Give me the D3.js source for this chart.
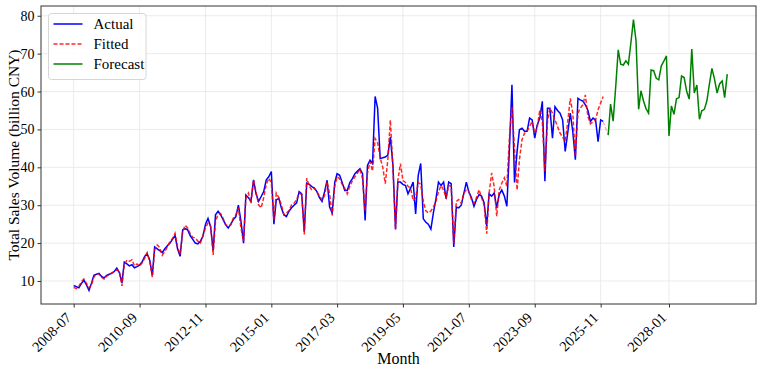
<!DOCTYPE html>
<html>
<head>
<meta charset="utf-8">
<script src="https://cdn.jsdelivr.net/npm/d3@7"></script>
<style>
  html, body { margin: 0; padding: 0; background: #fff; }
  svg { display: block; font-family: "Liberation Serif", "Times New Roman", serif; }
</style>
</head>
<body>
<div id="chart"></div>
<script>
// monthly series, first month of each block
const actualStart = "2008-07";
const forecastStart = "2026-01";

const actual = [
  8.8, 8.5, 8.2, 9.3, 10.2, 9.0, 7.5, 9.5, 11.5, 11.8,
  12.0, 11.2, 10.8, 11.5, 11.8, 12.0, 12.5, 13.4, 12.2, 9.5,
  15.0, 14.5, 14.0, 14.3, 13.5, 13.8, 14.2, 15.0, 16.5, 17.2,
  15.5, 11.5, 19.0, 18.5, 18.0, 17.5, 18.5, 19.3, 20.0, 21.0,
  22.0, 18.5, 16.5, 23.5, 23.8, 23.5, 22.0, 21.0, 20.0, 19.8,
  20.5, 21.8, 25.0, 26.5, 24.4, 18.0, 27.5, 28.4, 27.5, 26.2,
  24.8, 24.0, 25.0, 26.2, 27.0, 30.0, 25.8, 20.0, 32.7, 32.0,
  31.0, 36.7, 33.0, 31.0, 32.3, 33.6, 36.7, 37.5, 38.9, 25.0,
  31.4, 31.8, 29.3, 27.5, 27.0, 28.4, 29.3, 30.0, 30.6, 33.6,
  33.0, 23.0, 35.8, 35.5, 34.9, 34.5, 33.6, 32.0, 31.0, 33.5,
  36.6, 29.5, 28.0, 36.0, 38.3, 37.9, 36.0, 33.9, 33.9, 36.0,
  37.0, 38.3, 39.0, 39.6, 38.3, 26.0, 40.5, 41.9, 41.0, 58.7,
  55.6, 42.3, 42.5, 42.7, 43.2, 48.0, 40.5, 23.7, 36.1, 36.1,
  35.5, 35.2, 33.0, 34.5, 36.1, 27.7, 37.9, 41.0, 26.4, 25.5,
  25.0, 23.7, 28.0, 31.7, 36.1, 35.2, 36.1, 31.7, 36.1, 35.7,
  19.0, 29.5, 29.3, 30.0, 33.0, 36.1, 33.5, 32.0, 29.7, 31.5,
  32.8, 32.4, 30.6, 24.5, 33.0, 32.4, 33.2, 29.3, 32.8, 34.0,
  32.4, 29.7, 45.0, 61.8, 36.0, 44.2, 49.9, 50.3, 49.5, 49.5,
  53.0, 52.5, 47.7, 51.2, 53.0, 57.4, 36.3, 55.6, 55.6, 47.7,
  56.0, 55.0, 54.3, 52.5, 44.2, 49.0, 54.3, 49.5, 42.0, 58.2,
  57.8, 57.5, 56.5, 55.0, 52.1, 53.0, 52.5, 46.8, 52.5, 52.1
];

const fitted = [
  8.3, 8.0, 8.6, 9.8, 10.5, 9.4, 8.2, 9.0, 11.0, 12.0,
  11.8, 11.0, 10.5, 11.3, 11.6, 12.2, 12.4, 13.0, 12.5, 8.7,
  14.2, 15.5, 15.2, 15.6, 14.0, 14.5, 13.9, 14.8, 16.0, 17.5,
  15.2, 11.0, 18.2, 19.5, 18.8, 16.8, 17.8, 19.0, 20.4, 21.2,
  22.6, 19.0, 17.0, 23.0, 24.7, 24.0, 22.5, 21.5, 21.4, 20.5,
  20.0, 22.0, 24.0, 25.3, 24.5, 16.9, 25.8, 27.5, 27.8, 26.5,
  24.9, 24.5, 24.8, 26.6, 27.5, 29.3, 24.0, 20.5, 31.9, 33.2,
  30.5, 36.7, 33.5, 30.1, 29.3, 32.0, 35.5, 37.1, 36.0, 26.0,
  33.2, 32.0, 30.1, 27.5, 28.0, 28.5, 30.1, 30.5, 31.5, 33.2,
  32.8, 22.3, 37.1, 35.0, 34.0, 34.5, 33.5, 32.5, 31.4, 32.5,
  36.2, 33.0, 27.3, 35.0, 37.5, 37.0, 35.5, 34.5, 33.0, 35.0,
  36.5, 37.5, 38.5, 39.5, 37.0, 28.5, 38.5, 41.5, 39.0, 47.6,
  46.5, 42.5, 40.0, 35.7, 42.0, 52.5, 40.0, 23.5, 36.5, 41.0,
  36.5, 36.0, 35.0, 34.5, 31.2, 32.0, 36.0, 35.5, 31.0, 28.5,
  28.0, 28.5, 29.5, 31.0, 33.5, 35.2, 34.0, 32.0, 35.2, 35.0,
  20.0, 31.0, 31.5, 30.5, 33.2, 34.0, 33.7, 31.5, 30.5, 32.0,
  34.1, 32.0, 30.0, 22.5, 33.0, 38.5, 35.0, 27.1, 34.0, 35.8,
  37.2, 35.0, 48.0, 56.0, 45.0, 34.0, 42.0, 47.3, 49.0, 49.5,
  50.8, 52.1, 49.0, 50.5, 55.2, 52.0, 39.0, 52.0, 55.6, 54.3,
  52.5, 50.8, 49.0, 48.0, 46.8, 52.0, 58.2, 54.3, 42.9, 54.3,
  55.6, 56.5, 59.1, 53.4, 51.5, 52.0, 52.5, 55.2, 57.0, 58.7
];

const forecast = [
  48.5, 56.7, 52.2, 61.0, 71.0, 67.2, 67.0, 68.1, 67.2, 73.0,
  79.0, 73.4, 55.3, 60.2, 57.5, 55.5, 54.3, 65.7, 65.5, 63.5,
  63.1, 66.8, 68.0, 69.4, 48.3, 56.2, 54.0, 58.1, 58.4, 64.1,
  63.7, 60.0, 58.0, 71.2, 59.6, 61.7, 52.7, 54.9, 55.3, 57.5,
  62.0, 66.1, 63.3, 59.6, 62.0, 62.8, 58.4, 64.6
];

const xTickLabels = ["2008-07", "2010-09", "2012-11", "2015-01", "2017-03",
                     "2019-05", "2021-07", "2023-09", "2025-11", "2028-01"];
const yTicks = [10, 20, 30, 40, 50, 60, 70, 80];

const width = 764, height = 369;
const margin = {top: 6, right: 8, bottom: 65, left: 41};

const parseMonth = d3.utcParse('%Y-%m');
const fmtMonth = d3.utcFormat('%Y-%m');

// actual data on month starts, forecast on month ends
const a0 = parseMonth(actualStart);
const actualDates = d3.utcMonth.range(a0, d3.utcMonth.offset(a0, actual.length));
const f0 = parseMonth(forecastStart);
const forecastDates = d3.utcMonth.range(d3.utcMonth.offset(f0, 1), d3.utcMonth.offset(f0, forecast.length + 1))
    .map(d => d3.utcDay.offset(d, -1));

const actualPts = actual.map((v, i) => ({date: actualDates[i], value: v}));
const fittedPts = fitted.map((v, i) => ({date: actualDates[i], value: v}));
const forecastPts = forecast.map((v, i) => ({date: forecastDates[i], value: v}));
const bridgePts = [actualPts[actualPts.length - 1], forecastPts[0]];

const allDates = actualDates.concat(forecastDates);

const svg = d3.select('#chart').append('svg')
    .attr('width', width)
    .attr('height', height);

// x scale with matplotlib-like margins
const d0 = allDates[0], d1 = allDates[allDates.length - 1];
const span = d1 - d0;
const x = d3.scaleUtc()
    .domain([new Date(+d0 - span * 0.05), new Date(+d1 + span * 0.044)])
    .range([margin.left, width - margin.right]);

const allVals = actual.concat(fitted, forecast);
const vmin = d3.min(allVals), vmax = d3.max(allVals);
const vpad = (vmax - vmin) * 0.05;
const y = d3.scaleLinear()
    .domain([vmin - vpad, vmax + vpad])
    .range([height - margin.bottom, margin.top]);

const tickDates = xTickLabels.map(l => allDates.find(d => fmtMonth(d) === l));

// grid
const grid = svg.append('g').attr('class', 'grid');
grid.selectAll('.gx')
    .data(tickDates)
    .enter().append('line')
    .attr('x1', d => x(d)).attr('x2', d => x(d))
    .attr('y1', margin.top).attr('y2', height - margin.bottom)
    .style('stroke', '#e6e6e6').style('stroke-width', 0.8);
grid.selectAll('.gy')
    .data(yTicks)
    .enter().append('line')
    .attr('x1', margin.left).attr('x2', width - margin.right)
    .attr('y1', d => y(d)).attr('y2', d => y(d))
    .style('stroke', '#e6e6e6').style('stroke-width', 0.8);

const line = d3.line()
    .x(d => x(d.date))
    .y(d => y(d.value));

svg.append('path')
    .datum(actualPts)
    .attr('d', line)
    .style('fill', 'none')
    .style('stroke', '#0000ff')
    .style('stroke-width', 1.5);

svg.append('path')
    .datum(fittedPts)
    .attr('d', line)
    .style('fill', 'none')
    .style('stroke', '#ff0000')
    .style('stroke-opacity', 0.85)
    .style('stroke-width', 1.5)
    .style('stroke-dasharray', '4,2');

svg.append('path')
    .datum(bridgePts)
    .attr('d', line)
    .style('fill', 'none')
    .style('stroke', '#ff0000')
    .style('stroke-opacity', 0.3)
    .style('stroke-width', 1.5)
    .style('stroke-dasharray', '4,2');

svg.append('path')
    .datum(forecastPts)
    .attr('d', line)
    .style('fill', 'none')
    .style('stroke', '#008000')
    .style('stroke-width', 1.5);

// frame
svg.append('rect')
    .attr('x', margin.left)
    .attr('y', margin.top)
    .attr('width', width - margin.left - margin.right)
    .attr('height', height - margin.top - margin.bottom)
    .style('fill', 'none')
    .style('stroke', '#333')
    .style('stroke-width', 1);

// axes
const xAxis = svg.append('g')
    .attr('transform', 'translate(0,' + (height - margin.bottom) + ')')
    .call(d3.axisBottom(x).tickValues(tickDates).tickFormat(fmtMonth).tickSize(3.5).tickSizeOuter(0));
xAxis.select('.domain').remove();
xAxis.selectAll('line').style('stroke', '#333');
xAxis.selectAll('text')
    .attr('x', null).attr('y', null).attr('dy', null)
    .attr('text-anchor', 'end')
    .attr('transform', 'translate(-2,14.5) rotate(-45)')
    .style('font-family', '"Liberation Serif", serif')
    .style('font-size', '14.5px')
    .style('fill', '#000');

const yAxis = svg.append('g')
    .attr('transform', 'translate(' + margin.left + ',0)')
    .call(d3.axisLeft(y).tickValues(yTicks).tickSize(3.5).tickPadding(3).tickSizeOuter(0));
yAxis.select('.domain').remove();
yAxis.selectAll('line').style('stroke', '#333');
yAxis.selectAll('text')
    .style('font-family', '"Liberation Serif", serif')
    .style('font-size', '14px')
    .style('fill', '#000');

// axis titles
svg.append('text')
    .attr('x', (margin.left + width - margin.right) / 2)
    .attr('y', 364)
    .attr('text-anchor', 'middle')
    .style('font-size', '16px')
    .text('Month');

svg.append('text')
    .attr('transform', 'translate(19,' + ((margin.top + height - margin.bottom) / 2) + ') rotate(-90)')
    .attr('text-anchor', 'middle')
    .style('font-size', '15.5px')
    .text('Total Sales Volume (billion CNY)');

// legend
const legendItems = [
    {name: 'Actual', color: '#0000ff', dash: null, opacity: 1},
    {name: 'Fitted', color: '#ff0000', dash: '4,2', opacity: 0.85},
    {name: 'Forecast', color: '#008000', dash: null, opacity: 1}
];
const lg = svg.append('g').attr('transform', 'translate(48.5,13.5)');
lg.append('rect')
    .attr('width', 97.5).attr('height', 66)
    .attr('rx', 3)
    .style('fill', '#fff').style('fill-opacity', 0.85)
    .style('stroke', '#d6d6d6').style('stroke-width', 1);
const li = lg.selectAll('.li')
    .data(legendItems)
    .enter().append('g')
    .attr('transform', (d, i) => 'translate(0,' + (10.5 + i * 20) + ')');
li.append('line')
    .attr('x1', 5).attr('x2', 34)
    .style('stroke', d => d.color)
    .style('stroke-opacity', d => d.opacity)
    .style('stroke-width', 1.5)
    .style('stroke-dasharray', d => d.dash);
li.append('text')
    .attr('x', 45)
    .attr('dy', '0.34em')
    .style('font-size', '15px')
    .text(d => d.name);
</script>
</body>
</html>
